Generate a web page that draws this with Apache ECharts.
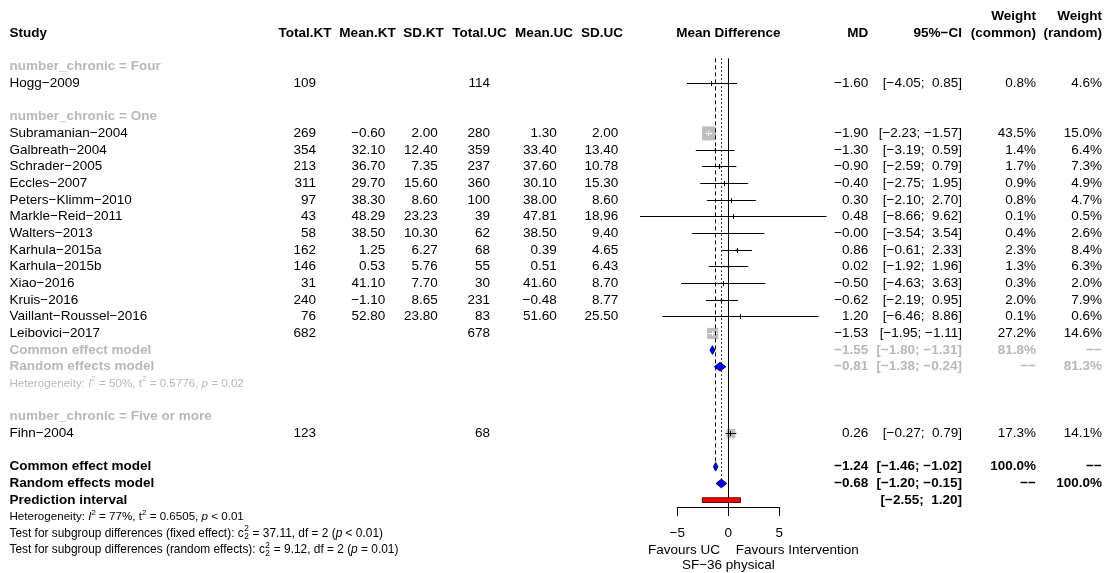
<!DOCTYPE html>
<html><head><meta charset="utf-8">
<script src="https://cdn.jsdelivr.net/npm/echarts@6/dist/echarts.min.js"></script>
<style>html,body{margin:0;padding:0;background:#fff}#c{width:1106px;height:573px}</style>
</head><body><div id="c"></div>
<script>
// ---------------- DATA ----------------
const groupLabels = ['number_chronic = Four', 'number_chronic = One', 'number_chronic = Five or more'];
const studyLabels = ['Hogg−2009','Subramanian−2004','Galbreath−2004','Schrader−2005','Eccles−2007','Peters−Klimm−2010','Markle−Reid−2011','Walters−2013','Karhula−2015a','Karhula−2015b','Xiao−2016','Kruis−2016','Vaillant−Roussel−2016','Leibovici−2017','Fihn−2004'];
const studyGroup = [0,1,1,1,1,1,1,1,1,1,1,1,1,1,2];
const totalKT = [109,269,354,213,311,97,43,58,162,146,31,240,76,682,123];
const meanKT  = [null,-0.60,32.10,36.70,29.70,38.30,48.29,38.50,1.25,0.53,41.10,-1.10,52.80,null,null];
const sdKT    = [null,2.00,12.40,7.35,15.60,8.60,23.23,10.30,6.27,5.76,7.70,8.65,23.80,null,null];
const totalUC = [114,280,359,237,360,100,39,62,68,55,30,231,83,678,68];
const meanUC  = [null,1.30,33.40,37.60,30.10,38.00,47.81,38.50,0.39,0.51,41.60,-0.48,51.60,null,null];
const sdUC    = [null,2.00,13.40,10.78,15.30,8.60,18.96,9.40,4.65,6.43,8.70,8.77,25.50,null,null];
const md      = [-1.60,-1.90,-1.30,-0.90,-0.40,0.30,0.48,-0.00,0.86,0.02,-0.50,-0.62,1.20,-1.53,0.26];
const ciLow   = [-4.05,-2.23,-3.19,-2.59,-2.75,-2.10,-8.66,-3.54,-0.61,-1.92,-4.63,-2.19,-6.46,-1.95,-0.27];
const ciHigh  = [0.85,-1.57,0.59,0.79,1.95,2.70,9.62,3.54,2.33,1.96,3.63,0.95,8.86,-1.11,0.79];
const wCommon = [0.8,43.5,1.4,1.7,0.9,0.8,0.1,0.4,2.3,1.3,0.3,2.0,0.1,27.2,17.3];
const wRandom = [4.6,15.0,6.4,7.3,4.9,4.7,0.5,2.6,8.4,6.3,2.0,7.9,0.6,14.6,14.1];

// subgroup "One" pooled: [MD, low, high]
const subCommon = [-1.55,-1.80,-1.31];
const subCommonWeight = 81.8;
const subRandom = [-0.81,-1.38,-0.24];
const subRandomWeight = 81.3;
const subHet = [50, '0.5776', '= 0.02'];        // I2, tau2, p

// overall
const overallCommon = [-1.24,-1.46,-1.02];
const overallRandom = [-0.68,-1.20,-0.15];
const predInterval  = [-2.55, 1.20];
const overallHet = [77, '0.6505', '< 0.01'];
const testFixed  = ['fixed effect', '37.11', 2, '< 0.01'];
const testRandom = ['random effects', '9.12', 2, '= 0.01'];

const axisTicks = [-5, 0, 5];
const axisTitleLeft = 'Favours UC';
const axisTitleRight = 'Favours Intervention';
const axisTitle = 'SF−36 physical';

// ---------------- LAYOUT / STYLE ----------------
const FF = '"Liberation Sans", Arial, Helvetica, sans-serif';
const FS = 13.5, FSS = 11.6, FST = 11.9;
const GRAY = '#B8B8B8';
const SQ_COL = '#BEBEBE';
const SQ_MAX = 14;
const COL = {study: 9.5, totalKT: 316, meanKT: 385.3, sdKT: 437.7, totalUC: 490, meanUC: 556.7, sdUC: 618.3, md: 868.3, ci: 962, wC: 1036, wR: 1102};
const HDR = {totalKT: 305, meanKT: 367.5, sdKT: 423.5, totalUC: 479.5, meanUC: 544, sdUC: 602};
const AXIS_ROW = 26.41;

const mctx = document.createElement('canvas').getContext('2d');
function fontStr(s){ return (s.i ? 'italic ' : '') + (s.b ? 'bold ' : '') + s.size + 'px ' + FF; }
function measure(t, s){ mctx.font = fontStr(s); return mctx.measureText(t).width; }
function crisp(v){ return Math.round(v - 0.5) + 0.5; }

const minus = '−';
function fmt(v){ const neg = v < 0 || Object.is(v, -0); return (neg ? minus : '') + Math.abs(v).toFixed(2); }
function fmtCI(lo, hi){ return '[' + fmt(lo) + ';' + (hi < 0 ? ' ' : '  ') + fmt(hi) + ']'; }
function fmtW(w){ return w.toFixed(1) + '%'; }
const DASH2 = minus + minus;

// row layout
const studyRow = [], groupRow = [];
let r = 0, subPooledRows = null, subHetRow = null;
groupLabels.forEach((g, gi) => {
  groupRow[gi] = r++;
  const idx = studyGroup.map((sg, i) => sg === gi ? i : -1).filter(i => i >= 0);
  idx.forEach(i => { studyRow[i] = r++; });
  if (idx.length > 1) { subPooledRows = [r, r + 1]; subHetRow = r + 2; r += 3; }
  r++;
});
const overallRows = [r, r + 1, r + 2];
const overallHetRow = r + 3, testFixedRow = r + 4, testRandomRow = r + 5;

// ---------------- TEXT ITEMS ----------------
const texts = [];
function T(row, segs, opt){ texts.push(Object.assign({row, segs: Array.isArray(segs) ? segs : [segs], align: 'left', b: false, color: '#000', size: FS}, opt)); }

// header
T(-2, 'Study', {x: COL.study, b: true});
[['totalKT','Total.KT'],['meanKT','Mean.KT'],['sdKT','SD.KT'],['totalUC','Total.UC'],['meanUC','Mean.UC'],['sdUC','SD.UC']]
  .forEach(([k, lab]) => T(-2, lab, {x: HDR[k], align: 'center', b: true}));
T(-2, 'Mean Difference', {xv: 0, align: 'center', b: true});
T(-2, 'MD', {x: COL.md, align: 'right', b: true});
T(-2, '95%' + minus + 'CI', {x: COL.ci, align: 'right', b: true});
T(-3, 'Weight', {x: COL.wC, align: 'right', b: true});
T(-2, '(common)', {x: COL.wC, align: 'right', b: true});
T(-3, 'Weight', {x: COL.wR, align: 'right', b: true});
T(-2, '(random)', {x: COL.wR, align: 'right', b: true});

groupLabels.forEach((g, gi) => T(groupRow[gi], g, {x: COL.study, b: true, color: GRAY}));
studyLabels.forEach((s, i) => {
  const row = studyRow[i];
  T(row, s, {x: COL.study});
  T(row, String(totalKT[i]), {x: COL.totalKT, align: 'right'});
  if (meanKT[i] !== null) T(row, fmt(meanKT[i]), {x: COL.meanKT, align: 'right'});
  if (sdKT[i] !== null) T(row, fmt(sdKT[i]), {x: COL.sdKT, align: 'right'});
  T(row, String(totalUC[i]), {x: COL.totalUC, align: 'right'});
  if (meanUC[i] !== null) T(row, fmt(meanUC[i]), {x: COL.meanUC, align: 'right'});
  if (sdUC[i] !== null) T(row, fmt(sdUC[i]), {x: COL.sdUC, align: 'right'});
  T(row, fmt(md[i]), {x: COL.md, align: 'right'});
  T(row, fmtCI(ciLow[i], ciHigh[i]), {x: COL.ci, align: 'right'});
  T(row, fmtW(wCommon[i]), {x: COL.wC, align: 'right'});
  T(row, fmtW(wRandom[i]), {x: COL.wR, align: 'right'});
});

function pooledText(row, label, est, wc, wr, color, bold){
  const o = {b: bold, color};
  T(row, label, Object.assign({x: COL.study}, o));
  if (est) {
    T(row, fmt(est[0]), Object.assign({x: COL.md, align: 'right'}, o));
    T(row, fmtCI(est[1], est[2]), Object.assign({x: COL.ci, align: 'right'}, o));
  }
  if (wc !== undefined) T(row, wc, Object.assign({x: COL.wC, align: 'right'}, o));
  if (wr !== undefined) T(row, wr, Object.assign({x: COL.wR, align: 'right'}, o));
}
pooledText(subPooledRows[0], 'Common effect model', subCommon, fmtW(subCommonWeight), DASH2, GRAY, true);
pooledText(subPooledRows[1], 'Random effects model', subRandom, DASH2, fmtW(subRandomWeight), GRAY, true);
pooledText(overallRows[0], 'Common effect model', overallCommon, fmtW(100), DASH2, '#000', true);
pooledText(overallRows[1], 'Random effects model', overallRandom, DASH2, fmtW(100), '#000', true);
T(overallRows[2], 'Prediction interval', {x: COL.study, b: true});
T(overallRows[2], fmtCI(predInterval[0], predInterval[1]), {x: COL.ci, align: 'right', b: true});

function hetSegs(h){
  return ['Heterogeneity: ', {t: 'I', i: true}, {t: '2', sup: true}, ' = ' + h[0] + '%, t', {t: '2', sup: true}, ' = ' + h[1] + ', ', {t: 'p', i: true}, ' ' + h[2]];
}
function testSegs(t){
  return ['Test for subgroup differences (' + t[0] + '): c', {stack: ['2', String(t[2])]}, ' = ' + t[1] + ', df = ' + t[2] + ' (', {t: 'p', i: true}, ' ' + t[3] + ')'];
}
T(subHetRow, hetSegs(subHet), {x: COL.study, size: FSS, color: GRAY});
T(overallHetRow, hetSegs(overallHet), {x: COL.study, size: FSS});
T(testFixedRow, testSegs(testFixed), {x: COL.study, size: FST});
T(testRandomRow, testSegs(testRandom), {x: COL.study, size: FST});

T(29, axisTitleLeft, {xv: 0, dx: -8.3, align: 'right'});
T(29, axisTitleRight, {xv: 0, dx: 7.4, align: 'left'});
T(29.9, axisTitle, {xv: 0, align: 'center'});

function buildText(item, x, y){
  const base = {size: item.size, b: item.b};
  const parts = item.segs.map(sg => {
    if (typeof sg === 'string') sg = {t: sg};
    const small = sg.sup || sg.stack;
    const st = {size: small ? item.size * 0.7 : item.size, b: sg.b !== undefined ? sg.b : base.b, i: !!sg.i};
    let w;
    if (sg.stack) w = Math.max(measure(sg.stack[0], st), measure(sg.stack[1], st)) + 1;
    else w = measure(sg.t, st);
    return {sg, st, w};
  });
  const total = parts.reduce((a, p) => a + p.w, 0);
  let cx = item.align === 'left' ? x : item.align === 'right' ? x - total : x - total / 2;
  const els = [];
  const mk = (t, st, xx, yy) => ({type: 'text', x: xx, y: yy, silent: true,
    style: {text: t, font: fontStr(st), fill: item.color, align: 'left', verticalAlign: 'middle', textAlign: 'left', textVerticalAlign: 'middle'}});
  parts.forEach(p => {
    if (p.sg.stack) {
      els.push(mk(p.sg.stack[0], p.st, cx + 0.5, y - item.size * 0.36));
      els.push(mk(p.sg.stack[1], p.st, cx + 0.5, y + item.size * 0.28));
    } else if (p.sg.sup) {
      els.push(mk(p.sg.t, p.st, cx, y - item.size * 0.36));
    } else {
      els.push(mk(p.sg.t, p.st, cx, y));
    }
    cx += p.w;
  });
  return els;
}

// ---------------- CHART ----------------
const chart = echarts.init(document.getElementById('c'), null, {renderer: 'canvas'});
const maxW = Math.max(...wCommon);

const studyData = studyLabels.map((s, i) => [md[i], ciLow[i], ciHigh[i], studyRow[i], wCommon[i]]);
const refData = [[0, -0.5, AXIS_ROW], [overallCommon[0], -0.5, overallRows[0]], [overallRandom[0], -0.5, overallRows[1]]];
const refDash = [null, [4, 3], [1.5, 2.5]];
const diamondData = [
  [subCommon[0], subCommon[1], subCommon[2], subPooledRows[0]],
  [subRandom[0], subRandom[1], subRandom[2], subPooledRows[1]],
  [overallCommon[0], overallCommon[1], overallCommon[2], overallRows[0]],
  [overallRandom[0], overallRandom[1], overallRandom[2], overallRows[1]]
];
const predData = [[predInterval[0], predInterval[1], overallRows[2]]];

const option = {
  animation: false,
  backgroundColor: '#fff',
  textStyle: {fontFamily: FF},
  grid: [
    {left: 626.3, width: 204, top: 0, height: 566.8},
    {left: 677.3, width: 102, top: 497, height: 10}
  ],
  xAxis: [
    {gridIndex: 0, type: 'value', min: -10, max: 10, show: false},
    {gridIndex: 1, type: 'value', min: -5, max: 5, interval: 5,
      axisLine: {show: true, lineStyle: {color: '#000', width: 1}},
      axisTick: {show: true, length: 9, inside: false, lineStyle: {color: '#000', width: 1}},
      axisLabel: {show: true, margin: 19, fontSize: FS, color: '#000', fontFamily: FF,
        formatter: v => axisTicks.indexOf(v) >= 0 ? (v < 0 ? minus : '') + Math.abs(v) : ''},
      splitLine: {show: false}}
  ],
  yAxis: [
    {gridIndex: 0, type: 'value', min: -4, max: 30, inverse: true, show: false},
    {gridIndex: 1, type: 'value', min: 0, max: 1, show: false}
  ],
  series: [
    {
      type: 'custom', name: 'studies', xAxisIndex: 0, yAxisIndex: 0, clip: false, z: 2,
      data: studyData, encode: {x: [0, 1, 2], y: 3},
      renderItem(params, api){
        const row = api.value(3);
        const y = api.coord([0, row])[1];
        const xm = api.coord([api.value(0), row])[0];
        const xl = api.coord([api.value(1), row])[0];
        const xh = api.coord([api.value(2), row])[0];
        const s = SQ_MAX * Math.sqrt(api.value(4) / maxW);
        const inside = (xh - xl) <= s;
        const lc = inside ? '#fff' : '#000';
        const yc = crisp(y), xc = crisp(xm);
        return {type: 'group', children: [
          {type: 'rect', shape: {x: xm - s / 2, y: y - s / 2, width: s, height: s}, style: {fill: SQ_COL}},
          {type: 'line', shape: {x1: xl, y1: yc, x2: xh, y2: yc}, style: {stroke: lc, lineWidth: 1}},
          {type: 'line', shape: {x1: xc, y1: yc - 2.5, x2: xc, y2: yc + 2.5}, style: {stroke: lc, lineWidth: 1}}
        ]};
      }
    },
    {
      type: 'custom', name: 'reference', xAxisIndex: 0, yAxisIndex: 0, clip: false, z: 3,
      data: refData, encode: {x: 0, y: [1, 2]},
      renderItem(params, api){
        const x = crisp(api.coord([api.value(0), 0])[0]);
        const y1 = api.coord([0, api.value(1)])[1];
        const y2 = api.coord([0, api.value(2)])[1];
        const st = {stroke: '#000', lineWidth: 1};
        if (refDash[params.dataIndex]) st.lineDash = refDash[params.dataIndex];
        return {type: 'line', shape: {x1: x, y1, x2: x, y2}, style: st};
      }
    },
    {
      type: 'custom', name: 'pooled', xAxisIndex: 0, yAxisIndex: 0, clip: false, z: 4,
      data: diamondData, encode: {x: [0, 1, 2], y: 3},
      renderItem(params, api){
        const row = api.value(3);
        const y = api.coord([0, row])[1];
        const xm = api.coord([api.value(0), row])[0];
        const xl = api.coord([api.value(1), row])[0];
        const xh = api.coord([api.value(2), row])[0];
        const h = 4.3;
        return {type: 'polygon', shape: {points: [[xl, y], [xm, y - h], [xh, y], [xm, y + h]]},
          style: {fill: '#0000FF', stroke: '#00006A', lineWidth: 1}};
      }
    },
    {
      type: 'custom', name: 'prediction', xAxisIndex: 0, yAxisIndex: 0, clip: false, z: 4,
      data: predData, encode: {x: [0, 1], y: 2},
      renderItem(params, api){
        const row = api.value(2);
        const y = api.coord([0, row])[1];
        const xl = api.coord([api.value(0), row])[0];
        const xh = api.coord([api.value(1), row])[0];
        return {type: 'rect', shape: {x: xl, y: y - 2.3, width: xh - xl, height: 4.6},
          style: {fill: '#FF0000', stroke: '#5A0000', lineWidth: 1}};
      }
    },
    {
      type: 'custom', name: 'table', xAxisIndex: 0, yAxisIndex: 0, clip: false, z: 5, silent: true,
      data: texts.map(t => [0, t.row]), encode: {x: 0, y: 1},
      renderItem(params, api){
        const item = texts[params.dataIndex];
        const y = api.coord([0, item.row])[1];
        const x = item.xv !== undefined ? api.coord([item.xv, 0])[0] + (item.dx || 0) : item.x;
        return {type: 'group', children: buildText(item, x, y)};
      }
    }
  ]
};
chart.setOption(option);
</script>
</body></html>
